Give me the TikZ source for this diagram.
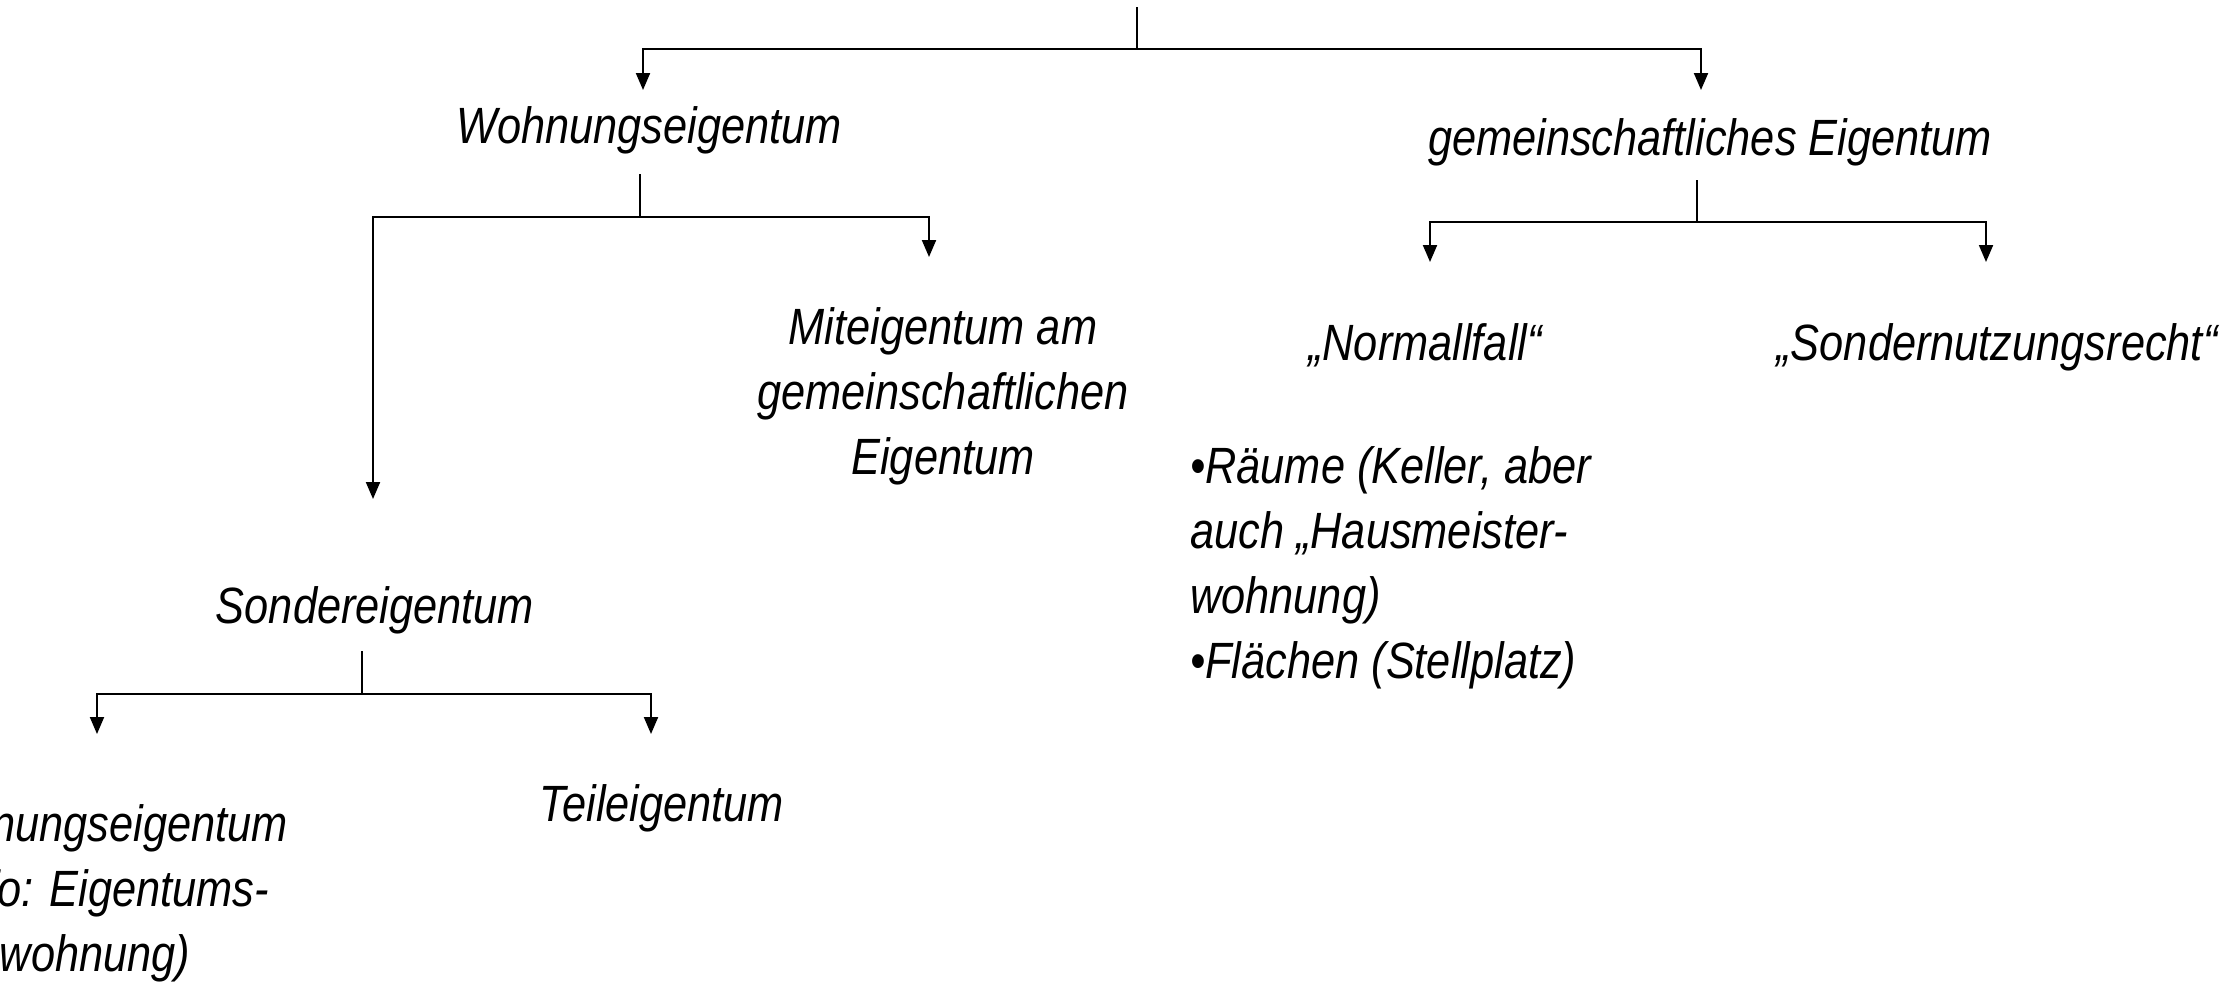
\documentclass[tikz,border=0pt]{standalone}
\usepackage{fontspec}
\setmainfont{Liberation Sans}[FakeStretch=0.85]
\usetikzlibrary{arrows.meta}
\begin{document}
\begin{tikzpicture}[x=1pt,y=-1pt,
  lbl/.style={font=\fontsize{51}{65}\selectfont\itshape, inner sep=0pt, anchor=base, align=center},
  lst/.style={lbl, align=left},
  wire/.style={line width=2pt, black},
  arr/.style={wire, -{Triangle[width=14pt,length=17pt]}}]
\useasboundingbox (0,0) rectangle (2234,986);
\clip (0,0) rectangle (2234,986);

% labels (multi-line labels are placed by the baseline of their last line)
\node[lbl] (wohn)  at (649,143) {Wohnungseigentum};
\node[lbl] (gem)   at (1710,155) {gemeinschaftliches Eigentum};
\node[lbl] (mit)   at (943,474) {Miteigentum am\\gemeinschaftlichen\\Eigentum};
\node[lbl] (sond)  at (375,623) {Sondereigentum};
\node[lbl] (woe)   at (95,971) {Wohnungseigentum\\\hspace*{14pt}(Info: Eigentums-\\wohnung)};
\node[lbl] (teil)  at (662,821) {Teileigentum};
\node[lbl] (norm)  at (1425,360) {„Normallfall“};
\node[lbl] (snr)   at (1997,360) {„Sondernutzungsrecht“};
\node[lst, anchor=base west] (bsp) at (1190,678) {•Räume (Keller, aber\\auch „Hausmeister-\\wohnung)\\•Flächen (Stellplatz)};

% junction points and arrow tips
\coordinate (r0) at (1137,7);
\coordinate (r1) at (1137,49);
\coordinate (tw) at (643,90);
\coordinate (tg) at (1701,90);

\coordinate (w0) at (640,174);
\coordinate (w1) at (640,217);
\coordinate (ts) at (373,499);
\coordinate (tm) at (929,257);

\coordinate (g0) at (1697,180);
\coordinate (g1) at (1697,222);
\coordinate (tn) at (1430,262);
\coordinate (tr) at (1986,262);

\coordinate (s0) at (362,651);
\coordinate (s1) at (362,694);
\coordinate (twe) at (97,734);
\coordinate (tt) at (651,734);

% tree connectors
\draw[wire] (r0) -- (r1);
\draw[arr] (r1) -| (tw);
\draw[arr] (r1) -| (tg);

\draw[wire] (w0) -- (w1);
\draw[arr] (w1) -| (ts);
\draw[arr] (w1) -| (tm);

\draw[wire] (g0) -- (g1);
\draw[arr] (g1) -| (tn);
\draw[arr] (g1) -| (tr);

\draw[wire] (s0) -- (s1);
\draw[arr] (s1) -| (twe);
\draw[arr] (s1) -| (tt);
\end{tikzpicture}
\end{document}
